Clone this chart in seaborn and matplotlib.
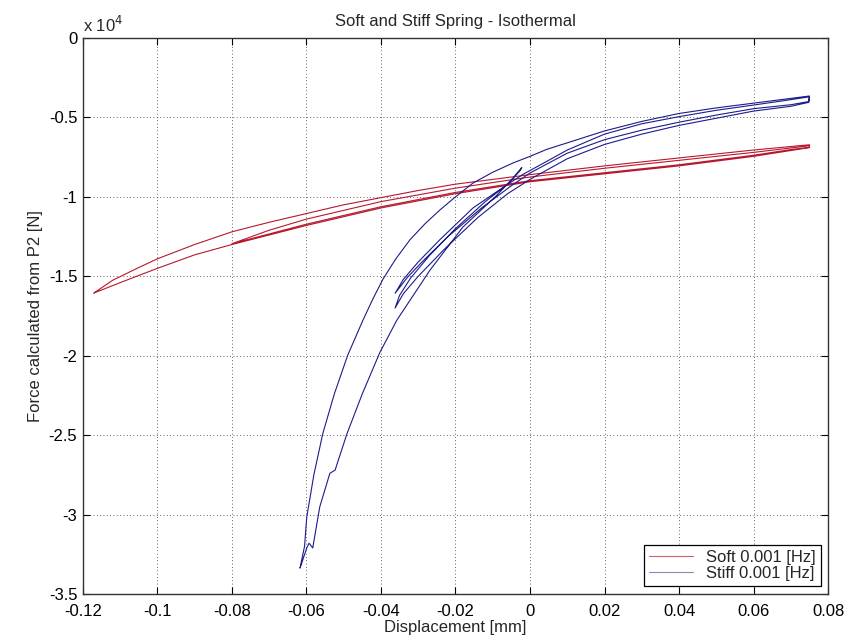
import pandas as pd
import matplotlib
matplotlib.use("Agg")
import matplotlib.pyplot as plt
import seaborn as sns
from matplotlib.ticker import FuncFormatter

# ---- data (force in units of 1e4 N, displacement in mm) ----
# Soft spring: outer cycle + inner cycle starting at -0.08
soft_x = [-0.117, -0.112, -0.105, -0.100, -0.090, -0.080, -0.070, -0.060, -0.050, -0.040,
          -0.030, -0.020, -0.010, 0.000, 0.020, 0.040, 0.060, 0.075,
          0.075, 0.070, 0.060, 0.040, 0.020, 0.000, -0.020, -0.040, -0.060, -0.080,
          -0.070, -0.060, -0.040, -0.020, 0.000, 0.020, 0.040, 0.060, 0.075,
          0.075, 0.060, 0.040, 0.020, 0.000, -0.020, -0.040, -0.060, -0.080,
          -0.090, -0.100, -0.110, -0.117]
soft_y = [-1.605, -1.525, -1.445, -1.390, -1.300, -1.220, -1.160, -1.105, -1.050, -1.005,
          -0.960, -0.920, -0.890, -0.860, -0.805, -0.755, -0.705, -0.672,
          -0.688, -0.702, -0.738, -0.798, -0.848, -0.898, -0.972, -1.062, -1.172, -1.295,
          -1.210, -1.140, -1.030, -0.945, -0.875, -0.820, -0.770, -0.720, -0.678,
          -0.690, -0.745, -0.805, -0.855, -0.905, -0.980, -1.070, -1.180, -1.300,
          -1.365, -1.450, -1.540, -1.605]

# Stiff spring: outer cycle plus two inner cycles from about -0.036
stiff_x = [
    # outer upper branch, bottom tip -> right tip
    -0.0617, -0.0605, -0.0599, -0.0580, -0.0556, -0.0525, -0.0489, -0.0448, -0.0421, -0.0395,
    -0.0360, -0.0322, -0.0282, -0.0242, -0.0200, -0.0153, -0.0100, -0.0046, 0.0000, 0.0046,
    0.0100, 0.0200, 0.0300, 0.0400, 0.0500, 0.0600, 0.0700, 0.0750,
    # lower band, right tip -> inner tip A
    0.0748, 0.0700, 0.0600, 0.0500, 0.0400, 0.0300, 0.0200, 0.0100, 0.0000, -0.0050,
    -0.0130, -0.0220, -0.0290, -0.0330, -0.0362,
    # inner tip A -> upper band -> right tip
    -0.0340, -0.0300, -0.0242, -0.0153, -0.0072, -0.0020, 0.0050, 0.0100, 0.0200, 0.0300,
    0.0400, 0.0500, 0.0600, 0.0700, 0.0750,
    # lower band, right tip -> inner tip B
    0.0748, 0.0700, 0.0600, 0.0500, 0.0400, 0.0300, 0.0200, 0.0100, 0.0000, -0.0060,
    -0.0140, -0.0230, -0.0300, -0.0340, -0.0362,
    # inner tip B -> turning point near zero
    -0.0350, -0.0320, -0.0270, -0.0200, -0.0120, -0.0065, -0.0040, -0.0025, -0.0022,
    # outer lower branch down to bottom tip
    -0.0045, -0.0089, -0.0180, -0.0268, -0.0357, -0.0403, -0.0450, -0.0491, -0.0523, -0.0537,
    -0.0564, -0.0583, -0.0593, -0.0599, -0.0617]
stiff_y = [
    -3.336, -3.200, -3.015, -2.750, -2.490, -2.240, -1.996, -1.775, -1.640, -1.520,
    -1.390, -1.270, -1.170, -1.083, -1.000, -0.913, -0.845, -0.787, -0.745, -0.700,
    -0.660, -0.585, -0.525, -0.475, -0.440, -0.410, -0.380, -0.365,
    -0.400, -0.420, -0.445, -0.485, -0.530, -0.580, -0.640, -0.725, -0.850, -0.930,
    -1.070, -1.250, -1.410, -1.510, -1.607,
    -1.520, -1.410, -1.270, -1.070, -0.940, -0.860, -0.770, -0.705, -0.605, -0.540,
    -0.495, -0.455, -0.422, -0.388, -0.370,
    -0.405, -0.430, -0.460, -0.505, -0.550, -0.605, -0.670, -0.760, -0.890, -0.980,
    -1.130, -1.330, -1.500, -1.610, -1.700,
    -1.620, -1.510, -1.370, -1.200, -1.030, -0.930, -0.870, -0.830, -0.815,
    -0.880, -0.990, -1.190, -1.460, -1.775, -1.980, -2.240, -2.490, -2.720, -2.740,
    -2.950, -3.210, -3.180, -3.210, -3.336]

x_ticks = [-0.12, -0.10, -0.08, -0.06, -0.04, -0.02, 0.0, 0.02, 0.04, 0.06, 0.08]
y_ticks = [0, -0.5, -1, -1.5, -2, -2.5, -3, -3.5]

soft_df = pd.DataFrame({"x": soft_x, "y": soft_y})
stiff_df = pd.DataFrame({"x": stiff_x, "y": stiff_y})

sns.set_theme(style="ticks")
plt.rcParams["font.family"] = ["Liberation Sans", "DejaVu Sans"]
plt.rcParams["axes.unicode_minus"] = False
FONT = ["Liberation Sans", "DejaVu Sans"]

fig = plt.figure(figsize=(8.45, 6.41), dpi=100)
ax = fig.add_axes([0.098, 0.0733, 0.882, 0.8674])

sns.lineplot(data=soft_df, x="x", y="y", sort=False, estimator=None, ax=ax,
             color="#b8182e", linewidth=0.8, label="Soft 0.001 [Hz]")
sns.lineplot(data=stiff_df, x="x", y="y", sort=False, estimator=None, ax=ax,
             color="#1c1c8a", linewidth=0.8, label="Stiff 0.001 [Hz]")

ax.set_xlim(-0.12, 0.08)
ax.set_ylim(-3.5, 0)
ax.set_xticks(x_ticks)
ax.set_yticks(y_ticks)
ax.xaxis.set_major_formatter(FuncFormatter(lambda v, p: "%g" % round(v, 4)))
ax.yaxis.set_major_formatter(FuncFormatter(lambda v, p: "%g" % round(v, 4)))
ax.tick_params(direction="in", top=True, right=True, length=5, width=0.8,
               labelsize=12, colors="black")
ax.tick_params(axis="x", pad=7)
ax.tick_params(axis="y", pad=4)
for s in ax.spines.values():
    s.set_visible(True)
    s.set_color("#333333")
    s.set_linewidth(1.0)

ax.grid(True, linestyle=(0, (1, 3)), color="black", linewidth=0.6, alpha=0.8)

ax.set_title("Soft and Stiff Spring - Isothermal", fontsize=12, pad=9, family=FONT)
ax.set_xlabel("Displacement [mm]", fontsize=12, labelpad=1, family=FONT)
ax.set_ylabel("Force calculated from P2 [N]", fontsize=12, labelpad=4, family=FONT)
ax.text(0.0, 1.006, r"x 10$^{4}$", transform=ax.transAxes, ha="left", va="bottom",
        fontsize=12, family=FONT)

leg = ax.legend(loc="lower right", bbox_to_anchor=(0.99, 0.014), borderaxespad=0,
                fancybox=False, framealpha=1, edgecolor="black",
                prop={"family": "Liberation Sans", "size": 12},
                handlelength=2.6, borderpad=0.3, labelspacing=0.1)
leg.get_frame().set_linewidth(0.9)
leg_colors = ["#c8606e", "#8888bb"]
for h, c in zip(leg.get_lines(), leg_colors):
    h.set_color(c)

fig.savefig("out.png", dpi=100)
